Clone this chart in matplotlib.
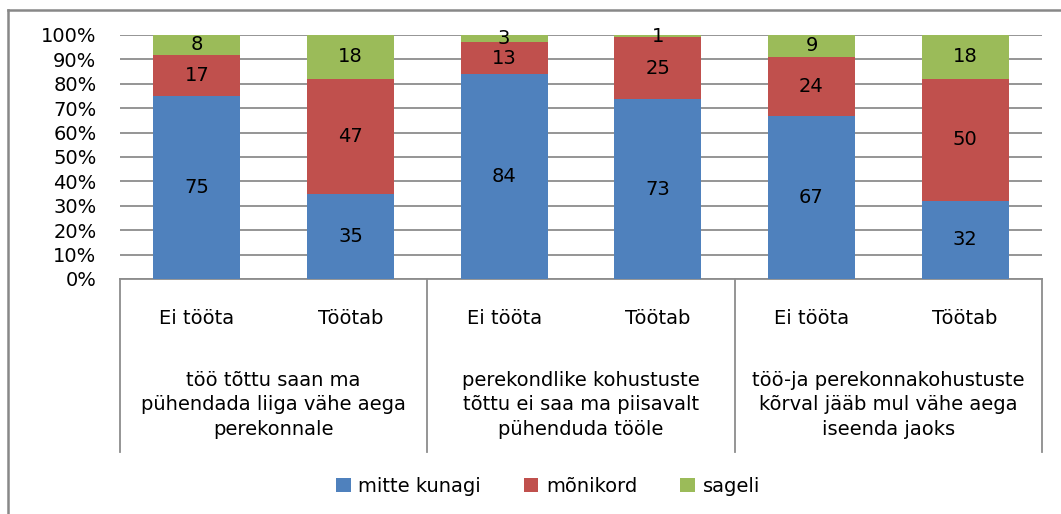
from matplotlib import pyplot as plt
from matplotlib.lines import Line2D
from matplotlib.patches import Patch
import numpy as np

plt.rcParams.update({'font.size': 14, 'font.family': 'DejaVu Sans'})

# data (labels are the raw survey percentages)
status = ["Ei tööta", "Töötab", "Ei tööta", "Töötab", "Ei tööta", "Töötab"]
groups = ["töö tõttu saan ma\npühendada liiga vähe aega\nperekonnale",
          "perekondlike kohustuste\ntõttu ei saa ma piisavalt\npühenduda tööle",
          "töö-ja perekonnakohustuste\nkõrval jääb mul vähe aega\niseenda jaoks"]
never = [75, 35, 84, 73, 67, 32]
sometimes = [17, 47, 13, 25, 24, 50]
often = [8, 18, 3, 1, 9, 18]
series_names = ["mitte kunagi", "mõnikord", "sageli"]
colors = ["#4F81BD", "#C0504D", "#9BBB59"]
grid_col = "#8c8c8c"

W, H = 1061, 514
fig = plt.figure(figsize=(W / 100, H / 100), dpi=100)
ax = fig.add_axes([120 / W, (H - 279) / H, 922 / W, 244 / H])

raw = np.array([never, sometimes, often], dtype=float)
share = raw / raw.sum(axis=0) * 100  # 100% stacked
x = np.arange(len(status))
bottom = np.zeros(len(status))
for vals, pct, col in zip(raw, share, colors):
    ax.bar(x, pct, 0.566, bottom=bottom, color=col, zorder=3)
    for xi, b, p, v in zip(x, bottom, pct, vals):
        ax.text(xi, b + p / 2, "%d" % v, ha='center', va='center', zorder=4)
    bottom += pct

ax.set_xlim(-0.5, len(status) - 0.5)
ax.set_ylim(0, 100)
ax.set_yticks(range(0, 101, 10))
ax.set_yticklabels(["%d%%" % t for t in range(0, 101, 10)])
ax.tick_params(axis='y', length=0, pad=17)
ax.set_xticks([])
ax.yaxis.grid(True, color=grid_col, linewidth=1.3, zorder=0)
for s in ['top', 'right', 'left']:
    ax.spines[s].set_visible(False)
ax.spines['bottom'].set_color(grid_col)
ax.spines['bottom'].set_linewidth(1.3)

# multi-level category axis
tr = ax.get_xaxis_transform()
for xd in [-0.5, 1.5, 3.5, 5.5]:
    ax.plot([xd, xd], [0, -173 / 244], color=grid_col, lw=1.3,
            transform=tr, clip_on=False)
for xi, lab in zip(x, status):
    ax.text(xi, -39 / 244, lab, ha='center', va='center', transform=tr)
for gi, lab in enumerate(groups):
    ax.text(2 * gi + 0.5, -126 / 244, lab, ha='center', va='center',
            transform=tr, linespacing=1.35)

handles = [Patch(facecolor=c, edgecolor='none') for c in colors]
fig.legend(handles, series_names, loc='center', bbox_to_anchor=(548 / W, 1 - 486 / H),
           ncol=3, frameon=False, handlelength=0.75, handleheight=0.75,
           handletextpad=0.4, columnspacing=2.2)

# outer chart frame (cut off on the right and bottom)
fx, fy = 8 / W, 1 - 10 / H
fig.add_artist(Line2D([fx, fx], [0, fy], color='#888888', lw=1.8))
fig.add_artist(Line2D([fx, 1], [fy, fy], color='#888888', lw=1.8))

fig.savefig("out.png", dpi=100)
